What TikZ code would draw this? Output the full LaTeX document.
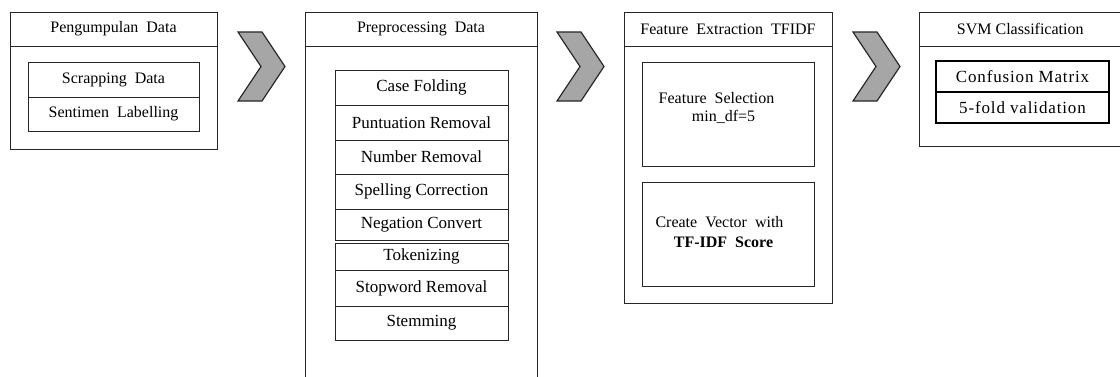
\documentclass[tikz,border=0pt]{standalone}
\usepackage{fontspec}
\setmainfont{Liberation Serif}
\newcommand{\wsp}{\hspace{0.5em}}
\begin{document}
\begin{tikzpicture}[x=1pt,y=-1pt,
  every node/.style={inner sep=0pt,outer sep=0pt},
  frame/.style={draw=black!85,line width=1pt,rectangle},
  hdr/.style={frame,font=\fontsize{16}{19}\selectfont},
  item/.style={frame,font=\fontsize{17}{20}\selectfont},
  sitem/.style={frame,font=\fontsize{16}{19}\selectfont},
  bitem/.style={draw=black,line width=2pt,rectangle,font=\fontsize{17}{20}\selectfont\addfontfeatures{LetterSpace=5}},
  txt/.style={anchor=base,font=\fontsize{16}{19}\selectfont},
  chev/.style={draw=black!85,line width=1.2pt,fill=black!35,line join=miter}]
\useasboundingbox (0,0) rectangle (1120,376);
\clip (0,0) rectangle (1120,376);
\fill[white] (0,0) rectangle (1120,376);
% Box 1
\node[hdr,minimum width=207pt,minimum height=34pt] (h1) at (113.5,29) {Pengumpulan\wsp Data};
\node[frame,minimum width=207pt,minimum height=103pt] (b1) at (113.5,97.5) {};
\node[sitem,minimum width=171pt,minimum height=35pt] (sd) at (113.5,79.5) {Scrapping\wsp Data};
\node[sitem,minimum width=171pt,minimum height=34pt] (sl) at (113.5,114) {Sentimen\wsp Labelling};
% Box 2
\node[hdr,minimum width=232pt,minimum height=34pt] (h2) at (421,29) {Preprocessing\wsp Data};
\node[frame,minimum width=232pt,minimum height=344pt] (b2) at (421,218) {};
\node[item,minimum width=173pt,minimum height=35pt] (cf) at (421.5,87.5) {Case Folding};
\node[item,minimum width=173pt,minimum height=35pt] (pr) at (421.5,122.5) {Puntuation Removal};
\node[item,minimum width=173pt,minimum height=34pt] (nr) at (421.5,157) {Number Removal};
\node[item,minimum width=173pt,minimum height=35pt] (sc) at (421.5,191.5) {Spelling Correction};
\node[item,minimum width=173pt,minimum height=31pt] (nc) at (421.5,224.5) {Negation Convert};
\node[item,minimum width=173pt,minimum height=27pt] (tk) at (421.5,256.5) {Tokenizing};
\node[item,minimum width=173pt,minimum height=36pt] (sw) at (421.5,288) {Stopword Removal};
\node[item,minimum width=173pt,minimum height=34pt] (st) at (421.5,323) {Stemming};
% Box 3
\node[hdr,minimum width=208pt,minimum height=34pt] (h3) at (728,29) {Feature\wsp Extraction\wsp TFIDF};
\node[frame,minimum width=208pt,minimum height=257pt] (b3) at (728,174.5) {};
\node[frame,minimum width=172pt,minimum height=104pt] (fsbox) at (728,114) {};
\node[frame,minimum width=172pt,minimum height=104pt] (cvbox) at (728,234) {};
\node[txt] (fs1) at (716.5,103) {Feature\wsp Selection};
\node[txt] (fs2) at (723.5,121) {min\_df=5};
\node[txt] (cv1) at (719.5,227) {Create\wsp Vector\wsp with};
\node[txt,font=\fontsize{16}{19}\selectfont\bfseries] (cv2) at (723.5,247) {TF-IDF\wsp Score};
% Box 4
\node[hdr,minimum width=202.5pt,minimum height=34pt] (h4) at (1020.25,29) {SVM Classification};
\node[frame,minimum width=202.5pt,minimum height=100pt] (b4) at (1020.25,96) {};
\node[bitem,minimum width=173pt,minimum height=31pt] (cm) at (1022.5,76.5) {Confusion Matrix};
\node[bitem,minimum width=173pt,minimum height=31pt] (fv) at (1022.5,107.5) {5-fold validation};
% Chevrons
\foreach \L in {238,557,853}
  \draw[chev] (\L,32) -- ++(24,0) -- ++(23,34.5) -- ++(-23,34.5) -- ++(-24,0) -- ++(23,-34.5) -- cycle;
\end{tikzpicture}
\end{document}
